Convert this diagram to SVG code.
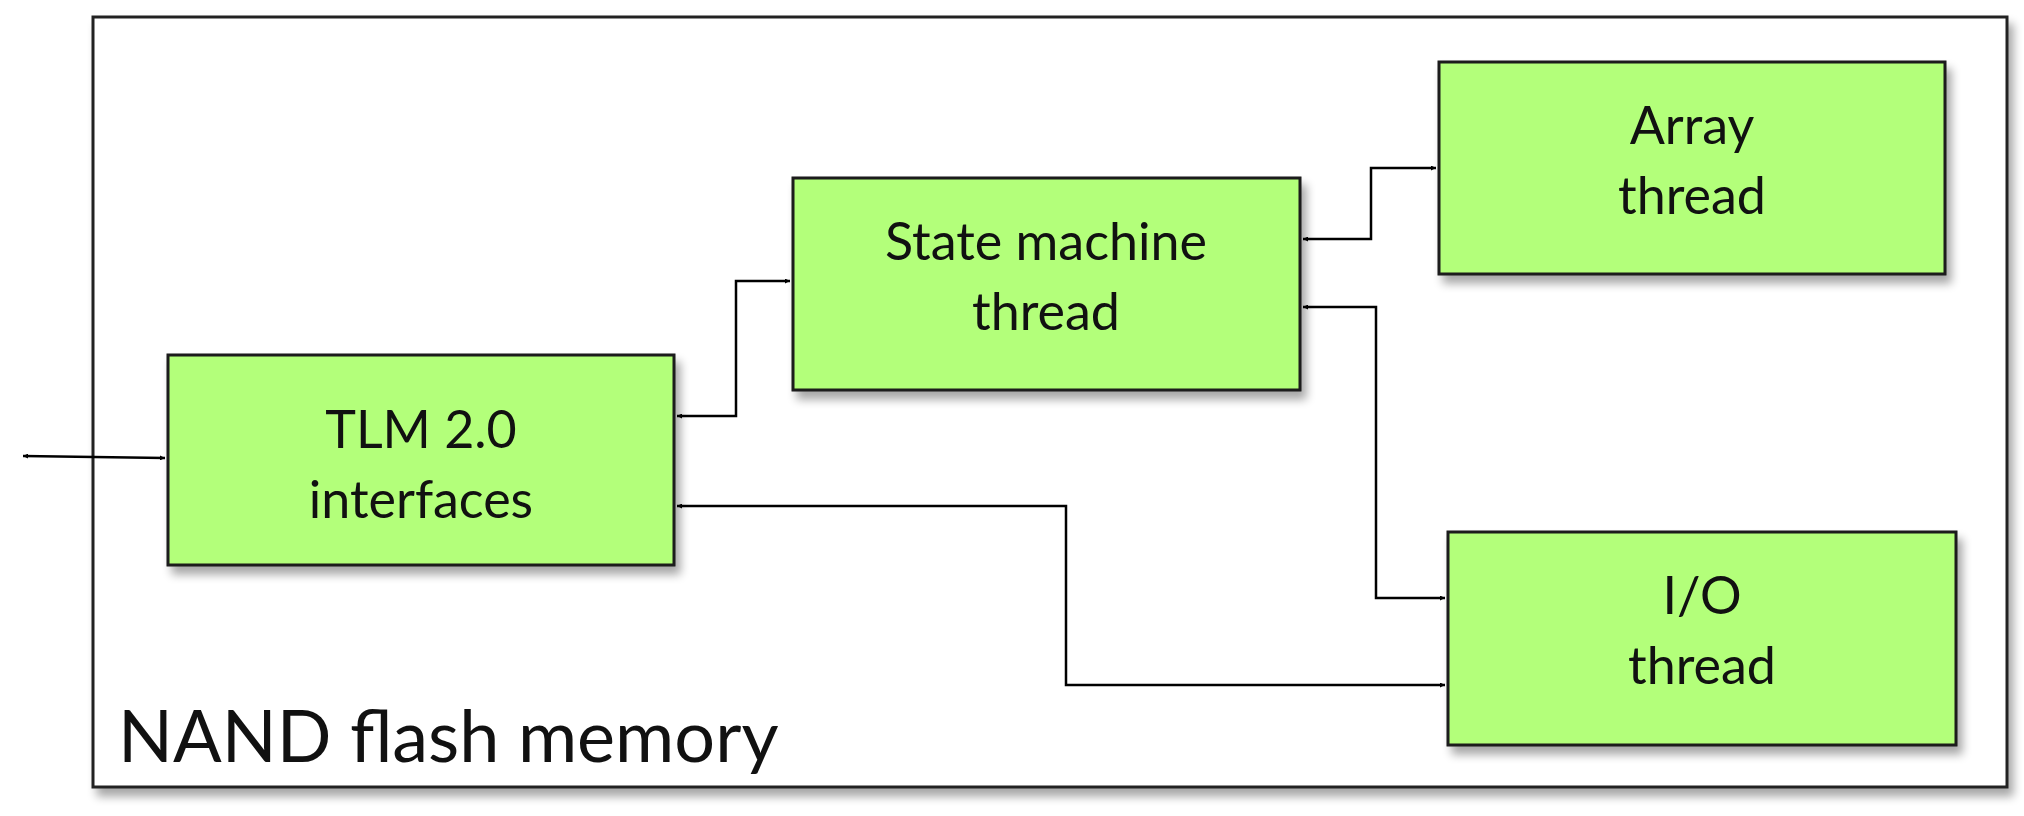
<svg xmlns="http://www.w3.org/2000/svg" width="2024" height="816" viewBox="0 0 2024 816">
<defs>
<filter id="sh" x="-10%" y="-10%" width="130%" height="140%"><feGaussianBlur in="SourceAlpha" stdDeviation="5"/><feOffset dx="5" dy="8"/><feComponentTransfer><feFuncA type="linear" slope="0.35"/></feComponentTransfer><feMerge><feMergeNode/><feMergeNode in="SourceGraphic"/></feMerge></filter>
<marker id="ah" viewBox="0 0 10 10" refX="10" refY="5" markerWidth="5" markerHeight="5" orient="auto-start-reverse" markerUnits="userSpaceOnUse"><path d="M0,0 L10,5 L0,10 z" fill="#000"/></marker>
<style>
.n{fill:#b3ff7a;stroke:#1a1a1a;stroke-width:3;filter:url(#sh)}
.t{font-family:Lato,"Open Sans",sans-serif;font-size:52px;fill:#111;text-anchor:middle}
.c{fill:none;stroke:#000;stroke-width:2.5;marker-start:url(#ah);marker-end:url(#ah)}
</style>
</defs>
<rect width="2024" height="816" fill="#fff"/>
<g id="outer"><rect x="93" y="17" width="1914" height="770" fill="#fff" stroke="#222" stroke-width="3" filter="url(#sh)"/>
<text x="118" y="762" style="font-family:Lato,'Open Sans',sans-serif;font-size:72px;fill:#111">NAND flash memory</text></g>
<g id="tlm"><rect class="n" x="168" y="355" width="506" height="210"/><text class="t" x="421" y="448">TLM 2.0</text><text class="t" x="421" y="518">interfaces</text></g>
<g id="state"><rect class="n" x="793" y="178" width="507" height="212"/><text class="t" x="1046" y="260">State machine</text><text class="t" x="1046" y="330">thread</text></g>
<g id="array"><rect class="n" x="1439" y="62" width="506" height="212"/><text class="t" x="1692" y="144">Array</text><text class="t" x="1692" y="214">thread</text></g>
<g id="io"><rect class="n" x="1448" y="532" width="508" height="213"/><text class="t" x="1702" y="614">I/O</text><text class="t" x="1702" y="684">thread</text></g>
<g id="connectors">
<path class="c" d="M23,456 L165,458"/>
<path class="c" d="M677,416 H736 V281 H790"/>
<path class="c" d="M1303,239 H1371 V168 H1436"/>
<path class="c" d="M1303,307 H1376 V598 H1445"/>
<path class="c" d="M677,506 H1066 V685 H1445"/>
</g>
</svg>
